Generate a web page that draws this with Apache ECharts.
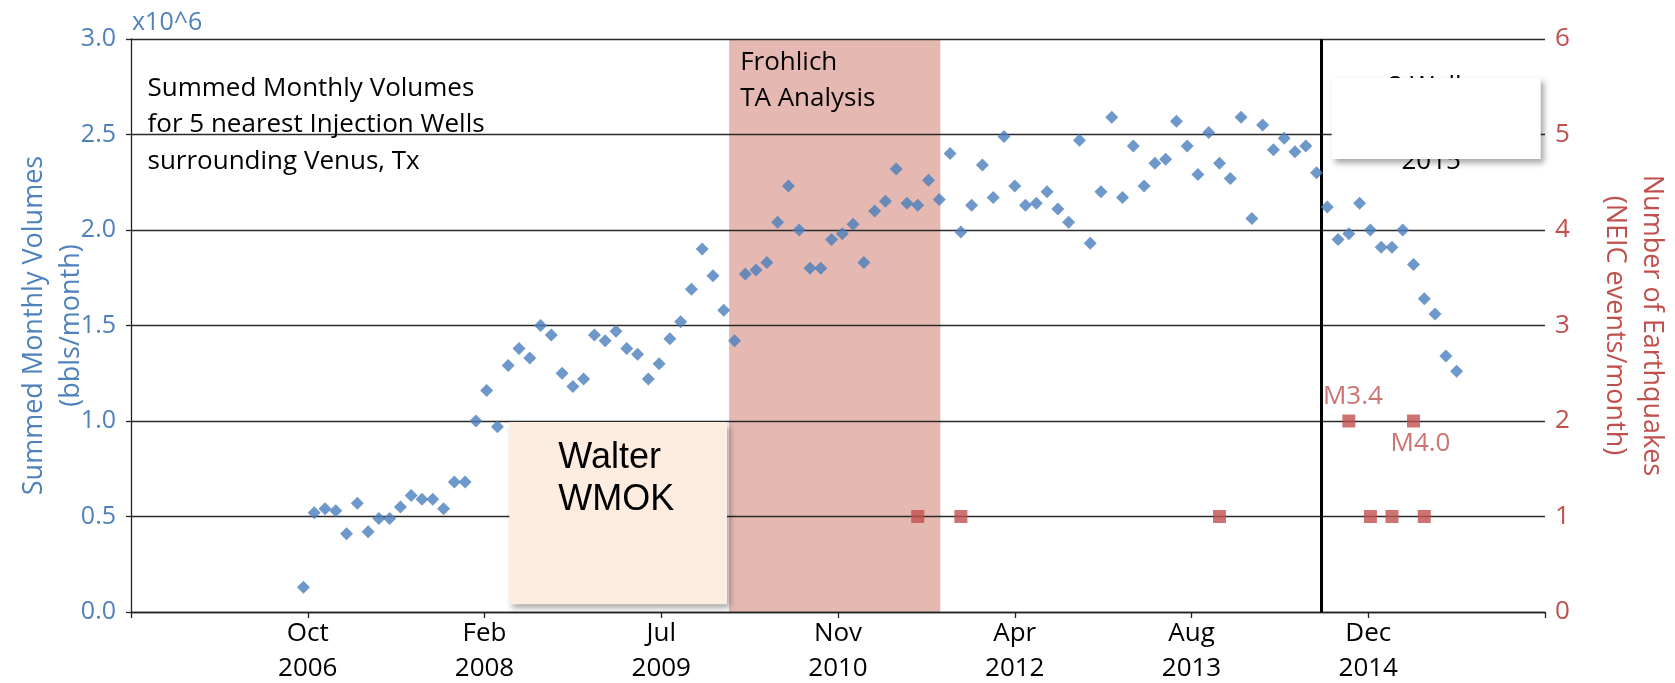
<!DOCTYPE html>
<html>
<head>
<meta charset="utf-8">
<script src="https://cdn.jsdelivr.net/npm/echarts@6/dist/echarts.min.js"></script>
<style>
  html, body { margin: 0; padding: 0; background: #fff; }
  #chart { width: 1675px; height: 683px; }
</style>
</head>
<body>
<div id="chart"></div>
<script>
// months are counted from Jan 2006 (0 = Jan 2006)
const startMonth = 9; // Oct 2006
// summed monthly volumes, x10^6 bbls/month, one per month from Oct 2006
const volumes = [
  0.13, 0.52, 0.54, 0.53, 0.41, 0.57, 0.42, 0.49, 0.49, 0.55,
  0.61, 0.59, 0.59, 0.54, 0.68, 0.68, 1.00, 1.16, 0.97, 1.29,
  1.38, 1.33, 1.50, 1.45, 1.25, 1.18, 1.22, 1.45, 1.42, 1.47,
  1.38, 1.35, 1.22, 1.30, 1.43, 1.52, 1.69, 1.90, 1.76, 1.58,
  1.42, 1.77, 1.79, 1.83, 2.04, 2.23, 2.00, 1.80, 1.80, 1.95,
  1.98, 2.03, 1.83, 2.10, 2.15, 2.32, 2.14, 2.13, 2.26, 2.16,
  2.40, 1.99, 2.13, 2.34, 2.17, 2.49, 2.23, 2.13, 2.14, 2.20,
  2.11, 2.04, 2.47, 1.93, 2.20, 2.59, 2.17, 2.44, 2.23, 2.35,
  2.37, 2.57, 2.44, 2.29, 2.51, 2.35, 2.27, 2.59, 2.06, 2.55,
  2.42, 2.48, 2.41, 2.44, 2.30, 2.12, 1.95, 1.98, 2.14, 2.00,
  1.91, 1.91, 2.00, 1.82, 1.64, 1.56, 1.34, 1.26
];
// NEIC earthquakes per month
const quakeMonths = [66, 70, 94, 106, 108, 110, 112, 113];
const quakeCounts = [1, 1, 1, 2, 1, 1, 2, 1];
const quakeTags = ['', '', '', 'M3.4', '', '', 'M4.0', ''];

// x axis
const xMin = -7;
const xMax = 124.2;
const tickMonths = [9.4, 25.8, 42.2, 58.6, 75, 91.4, 107.8];
const tickLabels = ['Oct\n2006', 'Feb\n2008', 'Jul\n2009', 'Nov\n2010', 'Apr\n2012', 'Aug\n2013', 'Dec\n2014'];

// annotation spans (months / volume units)
const frohlichSpan = [48.5, 68.1];
const walterSpan = [28.1, 48.3];
const walterRange = [0.04, 0.995];
const shutInMonth = 103.4;
const noteBoxSpan = [104.4, 123.8];
const noteBoxRange = [2.372, 2.796];

const BLUE = '#4F81BD';
const RED = '#C0504D';
const FONT = '"Open Sans", "Noto Sans", sans-serif';

const chart = echarts.init(document.getElementById('chart'));

const option = {
  animation: false,
  backgroundColor: '#fff',
  textStyle: { fontFamily: FONT },
  grid: { left: 131, right: 130, top: 39, bottom: 71, outerBoundsMode: 'none' },
  xAxis: {
    type: 'value',
    min: xMin,
    max: xMax,
    z: 3,
    splitLine: { show: false },
    axisLine: { show: true, onZero: false, lineStyle: { color: '#222', width: 1.3 } },
    axisTick: {
      show: true,
      customValues: [xMin].concat(tickMonths, [xMax]),
      length: 6,
      lineStyle: { color: '#222', width: 1.3 }
    },
    axisLabel: {
      customValues: tickMonths,
      color: '#000',
      fontSize: 26,
      lineHeight: 35,
      margin: 4,
      fontFamily: FONT,
      formatter: (v) => {
        const k = tickMonths.findIndex(t => Math.abs(t - v) < 1e-6);
        return k >= 0 ? tickLabels[k] : '';
      }
    }
  },
  yAxis: [
    {
      type: 'value',
      min: 0,
      max: 3,
      interval: 0.5,
      z: 3,
      name: 'Summed Monthly Volumes\n(bbls/month)',
      nameLocation: 'middle',
      nameRotate: 90,
      nameGap: 41,
      nameMoveOverlap: false,
      nameTextStyle: { color: BLUE, fontSize: 27, lineHeight: 37, fontFamily: FONT },
      axisLine: { show: true, onZero: false, lineStyle: { color: '#222', width: 1.3 } },
      axisTick: { show: true, length: 5, lineStyle: { color: '#222', width: 1.3 } },
      axisLabel: {
        color: BLUE, fontSize: 25, margin: 15, fontFamily: FONT,
        formatter: (v) => v.toFixed(1)
      },
      splitLine: { show: true, lineStyle: { color: '#2a2a2a', width: 1.3 } }
    },
    {
      type: 'value',
      min: 0,
      max: 6,
      interval: 1,
      position: 'right',
      z: 3,
      name: 'Number of Earthquakes\n(NEIC events/month)',
      nameLocation: 'middle',
      nameRotate: -90,
      nameGap: 51,
      nameMoveOverlap: false,
      nameTextStyle: { color: RED, fontSize: 27, lineHeight: 37, fontFamily: FONT },
      axisLine: { show: false, onZero: false },
      axisTick: { show: false },
      axisLabel: { color: RED, fontSize: 26, margin: 10, fontFamily: FONT },
      splitLine: { show: false }
    }
  ],
  series: [
    {
      name: 'Volumes',
      type: 'scatter',
      yAxisIndex: 0,
      z: 5,
      symbol: 'diamond',
      symbolSize: 13,
      itemStyle: { color: '#4A7EBB' },
      data: volumes.map((v, i) => [startMonth + i, v]),
      markLine: {
        silent: true,
        symbol: 'none',
        label: { show: false },
        lineStyle: { color: '#000', width: 3, type: 'solid' },
        data: [{ xAxis: shutInMonth }]
      }
    },
    {
      name: 'Earthquakes',
      type: 'scatter',
      yAxisIndex: 1,
      z: 5,
      symbol: 'rect',
      symbolSize: 13,
      itemStyle: { color: RED },
      data: quakeMonths.map((m, i) => {
        const item = { value: [m, quakeCounts[i]] };
        if (quakeTags[i]) {
          const below = quakeTags[i] === 'M4.0';
          item.label = {
            show: true,
            formatter: quakeTags[i],
            position: below ? 'bottom' : 'top',
            distance: below ? 3 : 5,
            offset: below ? [7, 0] : [4, 0],
            color: RED,
            fontSize: 26,
            fontFamily: FONT
          };
        }
        return item;
      })
    }
  ]
};

chart.setOption(option);

// annotation shapes, placed through the grid's own coordinate system
const px = (x, y) => chart.convertToPixel({ gridIndex: 0 }, [x, y]);
const band0 = px(frohlichSpan[0], 3);
const band1 = px(frohlichSpan[1], 0);
const w0 = px(walterSpan[0], walterRange[1]);
const w1 = px(walterSpan[1], walterRange[0]);
const n0 = px(noteBoxSpan[0], noteBoxRange[1]);
const n1 = px(noteBoxSpan[1], noteBoxRange[0]);
const shadow = { shadowBlur: 6, shadowOffsetX: 3, shadowOffsetY: 4, shadowColor: 'rgba(0,0,0,0.35)' };

chart.setOption({
  graphic: [
    {
      type: 'rect', z: 1, silent: true,
      shape: { x: band0[0], y: band0[1], width: band1[0] - band0[0], height: band1[1] - band0[1] },
      style: { fill: '#E5B9B1' }
    },
    {
      type: 'text', z: 4, silent: true, x: band0[0] + 11, y: 45,
      style: { text: 'Frohlich\nTA Analysis', font: '26px ' + FONT, lineHeight: 36, fill: '#000', textVerticalAlign: 'top' }
    },
    {
      type: 'rect', z: 4, silent: true,
      shape: { x: w0[0], y: w0[1], width: w1[0] - w0[0], height: w1[1] - w0[1] },
      style: Object.assign({ fill: '#FDEDE1' }, shadow)
    },
    {
      type: 'text', z: 4.5, silent: true, x: w0[0] + 49, y: w0[1] + 15,
      style: { text: 'Walter\nWMOK', font: '36px "Liberation Sans", Arial, sans-serif', lineHeight: 42, fill: '#000', textVerticalAlign: 'top' }
    },
    {
      type: 'text', z: 3.5, silent: true, x: (n0[0] + n1[0]) / 2 - 5, y: 68,
      style: { text: '2 Wells\n\n2015', font: '26px ' + FONT, lineHeight: 37.5, fill: '#000', textAlign: 'center', textVerticalAlign: 'top' }
    },
    {
      type: 'rect', z: 4, silent: true,
      shape: { x: n0[0], y: n0[1], width: n1[0] - n0[0], height: n1[1] - n0[1] },
      style: Object.assign({ fill: '#FFFFFF' }, shadow)
    },
    {
      type: 'text', z: 4, silent: true, x: 147.5, y: 70,
      style: {
        text: 'Summed Monthly Volumes\nfor 5 nearest Injection Wells\nsurrounding Venus, Tx',
        font: '26px ' + FONT, lineHeight: 36.5, fill: '#000', textVerticalAlign: 'top'
      }
    },
    {
      type: 'text', z: 4, silent: true, x: 132, y: 23,
      style: { text: 'x10^6', font: '25px ' + FONT, fill: BLUE, textVerticalAlign: 'middle' }
    }
  ]
});
</script>
</body>
</html>
